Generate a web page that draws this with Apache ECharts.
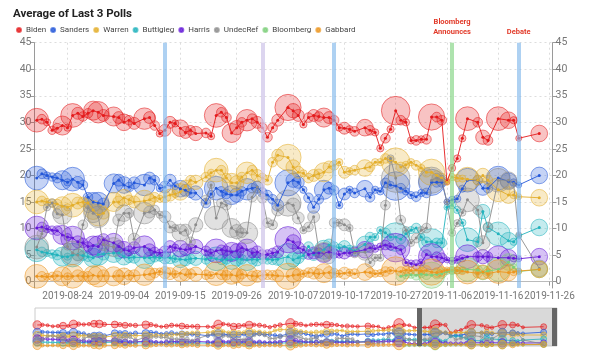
<!DOCTYPE html>
<html>
<head>
<meta charset="utf-8">
<title>Average of Last 3 Polls</title>
<script src="https://cdn.jsdelivr.net/npm/echarts@6/dist/echarts.min.js"></script>
<style>
  html, body { margin: 0; padding: 0; background: #fff; }
  #chart { width: 600px; height: 351px; }
</style>
</head>
<body>
<div id="chart"></div>
<script>
// one point per poll: average of the last 3 polls on that date
const pollDates = [
  '2019-08-18', '2019-08-19', '2019-08-20', '2019-08-21', '2019-08-22', '2019-08-23', '2019-08-24',
  '2019-08-25', '2019-08-26', '2019-08-27', '2019-08-28', '2019-08-29', '2019-08-30', '2019-08-31',
  '2019-09-02', '2019-09-03', '2019-09-04', '2019-09-05', '2019-09-06',
  '2019-09-08', '2019-09-09', '2019-09-10', '2019-09-11', '2019-09-12', '2019-09-13', '2019-09-14',
  '2019-09-15', '2019-09-16', '2019-09-17', '2019-09-18',
  '2019-09-20', '2019-09-21', '2019-09-22', '2019-09-23', '2019-09-24', '2019-09-25', '2019-09-26',
  '2019-09-27', '2019-09-28', '2019-09-29', '2019-09-30', '2019-10-01', '2019-10-02', '2019-10-03', '2019-10-04',
  '2019-10-06', '2019-10-07', '2019-10-08', '2019-10-09', '2019-10-10', '2019-10-11', '2019-10-12',
  '2019-10-13', '2019-10-14', '2019-10-15', '2019-10-16', '2019-10-17', '2019-10-18', '2019-10-19',
  '2019-10-21', '2019-10-22', '2019-10-23', '2019-10-24', '2019-10-25', '2019-10-26', '2019-10-27',
  '2019-10-28', '2019-10-29', '2019-10-30', '2019-10-31', '2019-11-01', '2019-11-02', '2019-11-03',
  '2019-11-04', '2019-11-05', '2019-11-06', '2019-11-07', '2019-11-08', '2019-11-09',
  '2019-11-10', '2019-11-12', '2019-11-13', '2019-11-14', '2019-11-16', '2019-11-18', '2019-11-19',
  '2019-11-20', '2019-11-24'
];

// respondents of each poll (bubble size)
const sampleSize = [
  2250, 370, 210, 280, 370, 1450, 210, 2250, 570, 370, 370, 1450, 1840, 570,
  1450, 570, 1110, 370, 570,
  1840, 570, 370, 210, 570, 570, 210, 1110, 570, 370, 820,
  370, 210, 2250, 370, 370, 1450, 820, 370, 1840, 370, 570, 370, 370, 370, 570,
  2750, 820, 570, 210, 370, 570, 370, 1450, 570, 370, 210, 570, 210, 370,
  1110, 370, 210, 210, 370, 210, 3270, 370, 210, 210, 370, 210, 370, 2750, 370, 370, 140, 210, 210, 210,
  2250, 370, 820, 370, 2250, 1110, 210, 90, 1110
];

const biden = [
  30.4, 30.6, 30.0, 28.5, 28.9, 29.4, 29.0, 31.3, 31.7, 31.1, 31.7, 32.2, 31.9, 31.3,
  31.1, 30.9, 30.0, 30.4, 29.8,
  30.7, 30.9, 29.4, 27.9, 28.5, 30.0, 29.8, 28.9, 28.1, 28.5, 27.9,
  28.0, 27.4, 31.3, 31.9, 30.9, 28.0, 29.0, 30.0, 30.4, 30.7, 30.0, 29.0, 27.2, 29.0, 30.4,
  32.8, 32.2, 31.3, 29.6, 30.9, 31.3, 31.1, 30.9, 30.9, 30.4, 29.0, 28.9, 28.7, 28.3,
  29.0, 28.5, 28.1, 25.1, 27.0, 28.7, 32.2, 30.4, 30.0, 26.6, 26.6, 26.8, 26.8, 31.0, 31.0, 30.4, 18.8, 21.4, 23.2, 27.0,
  30.7, 30.0, 27.2, 26.6, 30.7, 30.4, 30.4, 27.0, 27.9
];
const sanders = [
  19.5, 20.3, 20.0, 19.7, 19.5, 19.1, 18.7, 19.3, 18.7, 18.2, 15.9, 15.0, 14.8, 14.6,
  18.5, 19.1, 18.2, 17.8, 18.6,
  18.2, 19.5, 19.1, 17.6, 17.8, 19.1, 18.0, 17.5, 17.2, 16.7, 16.7,
  14.8, 16.5, 17.6, 17.0, 16.5, 16.3, 16.3, 17.0, 17.4, 17.6, 17.8, 16.8, 16.3, 15.5, 14.4,
  18.6, 19.1, 18.7, 17.3, 15.8, 14.0, 15.5, 17.3, 17.6, 17.2, 14.4, 16.5, 17.3, 16.7,
  17.5, 15.9, 17.3, 17.0, 18.6, 18.2, 18.0, 17.6, 17.0, 16.3, 16.0, 16.7, 16.7, 18.7, 18.7, 18.7, 15.0, 15.4, 15.6, 17.5,
  19.1, 19.1, 17.6, 17.6, 19.5, 18.9, 18.7, 18.2, 20.0
];
const warren = [
  15.0, 15.2, 15.0, 14.8, 14.6, 14.2, 14.0, 14.4, 14.8, 15.0, 14.8, 13.5, 12.5, 12.9,
  15.0, 15.0, 15.8, 15.4, 15.0,
  15.2, 15.4, 15.9, 15.6, 16.0, 16.3, 16.5, 16.9, 18.0, 19.1, 18.7,
  19.7, 20.5, 21.0, 21.0, 19.5, 18.6, 18.6, 19.7, 20.5, 21.0, 20.0, 19.5, 19.1, 22.5, 23.8,
  23.4, 21.6, 20.6, 20.4, 19.5, 20.0, 20.3, 20.6, 21.6, 21.9, 22.5, 20.6, 20.8, 21.0,
  21.4, 21.6, 22.5, 22.5, 23.2, 22.9, 22.5, 21.6, 22.0, 22.5, 21.9, 21.4, 20.6, 20.6, 20.0, 19.5, 18.7, 19.7, 19.5, 19.4,
  19.3, 19.1, 20.0, 19.1, 17.3, 16.3, 16.3, 16.0, 15.8
];
const buttigieg = [
  6.0, 5.6, 5.4, 5.2, 5.0, 4.7, 4.7, 5.0, 5.1, 4.9, 4.7, 4.5, 5.1, 5.2,
  5.4, 5.4, 4.7, 4.5, 4.6,
  4.5, 4.5, 4.6, 4.5, 4.5, 4.5, 4.3, 4.2, 4.1, 4.3, 4.4,
  4.2, 4.5, 4.3, 4.1, 4.2, 4.1, 4.3, 4.2, 4.1, 4.2, 4.1, 4.3, 4.2, 4.1, 4.2,
  4.7, 4.1, 4.5, 4.9, 6.6, 5.1, 5.5, 6.0, 6.9, 6.6, 6.4, 6.6, 6.2, 5.8,
  7.0, 8.4, 8.4, 9.7, 9.2, 8.4, 8.4, 8.0, 9.0, 9.7, 10.1, 8.4, 7.5, 7.5, 7.3, 7.3, 14.0, 14.4, 13.5, 11.1,
  7.9, 7.5, 13.2, 10.2, 9.0, 7.7, 7.5, 8.6, 10.2
];
const harris = [
  10.1, 10.3, 9.9, 9.7, 9.6, 8.8, 8.4, 8.2, 7.5, 7.3, 6.6, 6.8, 6.6, 7.9,
  7.3, 6.6, 6.0, 5.8, 6.4,
  6.6, 6.0, 5.6, 5.4, 5.6, 6.6, 6.4, 6.2, 6.0, 6.2, 6.6,
  5.8, 5.4, 5.8, 6.0, 5.8, 5.6, 5.8, 6.4, 6.0, 5.4, 5.6, 5.1, 5.1, 5.4, 5.6,
  7.9, 7.5, 6.4, 6.0, 5.1, 5.4, 5.4, 5.4, 5.6, 5.3, 5.1, 5.4, 5.4, 5.6,
  6.0, 6.4, 6.2, 6.6, 6.9, 6.6, 6.4, 6.0, 3.6, 3.4, 3.2, 3.6, 5.1, 4.7, 4.7, 4.5, 4.1, 3.9, 4.1, 4.4,
  4.7, 4.7, 4.7, 4.7, 4.5, 4.5, 4.4, 4.3, 4.7
];
const undecRef = [
  6.5, 9.0, 14.0, 14.8, 12.8, 12.6, 6.6, 5.4, 5.0, 10.7, 13.9, 12.9, 12.2, 7.0,
  6.5, 11.6, 12.9, 12.9, 8.0,
  12.9, 13.1, 13.5, 12.6, 12.2, 10.3, 10.1, 9.2, 9.7, 7.5, 10.7,
  15.4, 18.2, 12.0, 14.8, 14.4, 10.1, 9.4, 9.2, 9.2, 15.9, 17.8, 15.7, 11.1, 10.7, 13.5,
  14.8, 14.4, 12.0, 9.7, 10.3, 12.2, 6.0, 5.6, 4.5, 11.1, 11.1, 10.7, 10.1, 5.4,
  5.6, 3.6, 4.5, 4.5, 14.4, 23.2, 19.5, 11.6, 9.7, 7.3, 8.2, 9.7, 10.1, 19.1, 19.5, 19.1, 15.0, 9.2, 11.0, 13.0,
  15.4, 13.5, 7.3, 10.3, 19.1, 19.1, 18.5, 8.8, 2.5
];
const bloomberg = [
  null, null, null, null, null, null, null, null, null, null, null, null, null, null,
  null, null, null, null, null,
  null, null, null, null, null, null, null, null, null, null, null,
  null, null, null, null, null, null, null, null, null, null, null, null, null, null, null,
  null, null, null, null, null, null, null, null, null, null, null, null, null, null,
  null, null, null, null, null, null, null, 1.0, 1.2, 1.3, 1.2, 1.4, 1.3, 1.2, 1.4, 1.5, 1.9, 2.0, 2.1, 2.2,
  2.3, 2.2, 1.7, 2.0, 2.3, 3.7, 2.7, 1.9, 2.3
];
const gabbard = [
  1.0, 1.0, 0.9, 1.0, 1.1, 1.0, 1.0, 1.0, 1.1, 1.0, 1.0, 1.2, 1.0, 1.1,
  1.0, 1.1, 1.0, 1.2, 1.1,
  1.3, 1.4, 1.6, 1.9, 1.7, 1.5, 1.4, 1.6, 1.3, 1.5, 1.4,
  1.3, 1.2, 1.5, 1.3, 1.2, 1.3, 1.1, 1.4, 1.2, 1.1, 1.0, 1.2, 1.3, 1.2, 1.1,
  1.0, 1.2, 1.3, 1.5, 1.7, 1.6, 1.5, 1.6, 1.7, 1.6, 1.5, 1.6, 1.7, 1.5,
  1.8, 1.7, 1.5, 1.6, 1.9, 2.1, 2.0, 1.9, 2.2, 2.1, 2.2, 2.0, 2.1, 1.8, 1.7, 1.9, 2.2, 2.2, 2.1, 2.0,
  1.8, 1.6, 1.8, 1.5, 1.9, 1.7, 1.8, 2.0, 2.3
];

const candidates = ['Biden', 'Sanders', 'Warren', 'Buttigieg', 'Harris', 'UndecRef', 'Bloomberg', 'Gabbard'];
const candidateValues = [biden, sanders, warren, buttigieg, harris, undecRef, bloomberg, gabbard];

// events drawn as vertical bands
const eventDates = ['2019-09-12', '2019-10-01', '2019-10-15', '2019-11-07', '2019-11-20'];
const eventKinds = ['debate', 'quarter', 'debate', 'bloomberg', 'debate'];
const eventLabels = ['', '', '', 'Bloomberg\nAnnounces', 'Debate'];

const tickLabels = ['2019-08-24', '2019-09-04', '2019-09-15', '2019-09-26', '2019-10-07',
  '2019-10-17', '2019-10-27', '2019-11-06', '2019-11-16', '2019-11-26'];
const yTicks = [0, 5, 10, 15, 20, 25, 30, 35, 40, 45];
const dateRange = ['2019-08-17 13:30', '2019-11-26 14:00'];

// selected window of the overview strip
const windowRange = ['2019-10-31', '2019-11-26'];

const colors = {
  Biden: '#e41a1c',
  Sanders: '#2357d9',
  Warren: '#e3ae2b',
  Buttigieg: '#22b3bd',
  Harris: '#6418d8',
  UndecRef: '#8c8c8c',
  Bloomberg: '#7ccf7a',
  Gabbard: '#ec961f'
};
const bandColors = {
  debate: 'rgba(130,185,235,0.65)',
  quarter: 'rgba(205,195,232,0.7)',
  bloomberg: 'rgba(140,215,140,0.7)'
};
const FONT = 'Roboto, "Liberation Sans", Arial, sans-serif';

function fade(hex, a) {
  const n = parseInt(hex.slice(1), 16);
  return 'rgba(' + (n >> 16) + ',' + ((n >> 8) & 255) + ',' + (n & 255) + ',' + a + ')';
}
// 'YYYY-MM-DD[ HH:mm]' -> local timestamp
function ts(s) {
  const p = s.split(/[- :]/).map(Number);
  return new Date(p[0], p[1] - 1, p[2], p[3] || 0, p[4] || 0).getTime();
}
const pad = n => (n < 10 ? '0' : '') + n;
function ymd(v) {
  const d = new Date(v);
  return d.getFullYear() + '-' + pad(d.getMonth() + 1) + '-' + pad(d.getDate());
}

const chart = echarts.init(document.getElementById('chart'));

const bubbles = [];
const lines = [];
const minis = [];
candidates.forEach((name, k) => {
  const col = colors[name];
  const pts = [];
  candidateValues[k].forEach((v, i) => {
    if (v != null) pts.push([ts(pollDates[i]), v, sampleSize[i]]);
  });
  bubbles.push({
    type: 'scatter', name, data: pts, z: 2, silent: true,
    symbolSize: p => Math.max(6, Math.sqrt(p[2]) * 0.5),
    itemStyle: { color: fade(col, 0.33), borderColor: fade(col, 0.85), borderWidth: 0.8 }
  });
  lines.push({
    type: 'line', name, data: pts, z: 3, silent: true,
    symbol: 'circle', symbolSize: 3,
    lineStyle: { color: col, width: 0.9 },
    itemStyle: { color: col }
  });
  minis.push({
    type: 'line', name, data: pts, xAxisIndex: 1, yAxisIndex: 2, silent: true,
    symbol: 'circle', symbolSize: p => Math.max(3, Math.sqrt(p[2]) * 0.18),
    lineStyle: { color: col, width: 0.8 },
    itemStyle: { color: fade(col, 0.35), borderColor: col, borderWidth: 0.6 }
  });
});

// event bands on the main grid
lines[0].markLine = {
  silent: true, symbol: 'none', animation: false,
  data: eventDates.map((d, i) => ({
    xAxis: ts(d),
    lineStyle: { color: bandColors[eventKinds[i]], width: 4, type: 'solid' },
    label: {
      show: eventLabels[i] !== '', formatter: eventLabels[i], position: 'end', distance: 6,
      color: '#e23b2a', fontSize: 7.5, fontWeight: 'bold', lineHeight: 9.5, fontFamily: FONT
    }
  }))
};

// selected window in the overview strip
minis[0].markArea = {
  silent: true,
  itemStyle: { color: 'rgba(170,170,170,0.45)' },
  data: [[{ xAxis: ts(windowRange[0]) }, { xAxis: ts(windowRange[1]) }]]
};
minis[0].markLine = {
  silent: true, symbol: 'none', label: { show: false },
  lineStyle: { color: '#666', width: 5, type: 'solid' },
  data: windowRange.map(d => ({ xAxis: ts(d) }))
};

const valueAxis = {
  type: 'value', min: -1.2, max: 45,
  axisLine: { show: true, lineStyle: { color: '#9a9a9a' } },
  axisTick: { show: true, length: 4, customValues: yTicks, lineStyle: { color: '#9a9a9a' } },
  axisLabel: { customValues: yTicks, color: '#777', fontSize: 10.5, margin: 3, fontFamily: FONT }
};
const tickTimes = tickLabels.map(ts);

chart.setOption({
  animation: false,
  title: {
    text: 'Average of Last 3 Polls', left: 8, top: 3,
    textStyle: { fontSize: 11.5, fontWeight: 'bold', color: '#222', fontFamily: FONT }
  },
  legend: {
    top: 21, left: 11, icon: 'circle', itemWidth: 4, itemHeight: 4, itemGap: 4,
    textStyle: { fontSize: 8, color: '#444', fontFamily: FONT },
    data: candidates.map(c => ({ name: c, itemStyle: { color: colors[c] } }))
  },
  grid: [
    { left: 34.5, right: 47.5, top: 42.7, bottom: 63 },
    { left: 35, right: 43, top: 308, bottom: 5, show: true, borderColor: '#ccc', borderWidth: 1 }
  ],
  xAxis: [
    {
      type: 'value', gridIndex: 0, min: ts(dateRange[0]), max: ts(dateRange[1]),
      axisLine: { show: true, lineStyle: { color: '#bbb' } },
      axisTick: { show: true, length: 4, customValues: tickTimes, lineStyle: { color: '#9a9a9a' } },
      axisLabel: {
        customValues: tickTimes, formatter: ymd, color: '#777', fontSize: 10, margin: 3,
        fontFamily: FONT, showMinLabel: true, showMaxLabel: true, hideOverlap: false
      },
      splitLine: { show: true, lineStyle: { color: '#ddd', type: [2, 3] } }
    },
    {
      type: 'value', gridIndex: 1, min: ts(dateRange[0]), max: ts(dateRange[1]), show: false
    }
  ],
  yAxis: [
    Object.assign({}, valueAxis, {
      gridIndex: 0, position: 'left',
      splitLine: { show: true, lineStyle: { color: '#ddd', type: [2, 3] } }
    }),
    Object.assign({}, valueAxis, { gridIndex: 0, position: 'right', splitLine: { show: false } }),
    { type: 'value', gridIndex: 1, min: 0, max: 55, show: false }
  ],
  series: bubbles.concat(lines, minis)
});
</script>
</body>
</html>
